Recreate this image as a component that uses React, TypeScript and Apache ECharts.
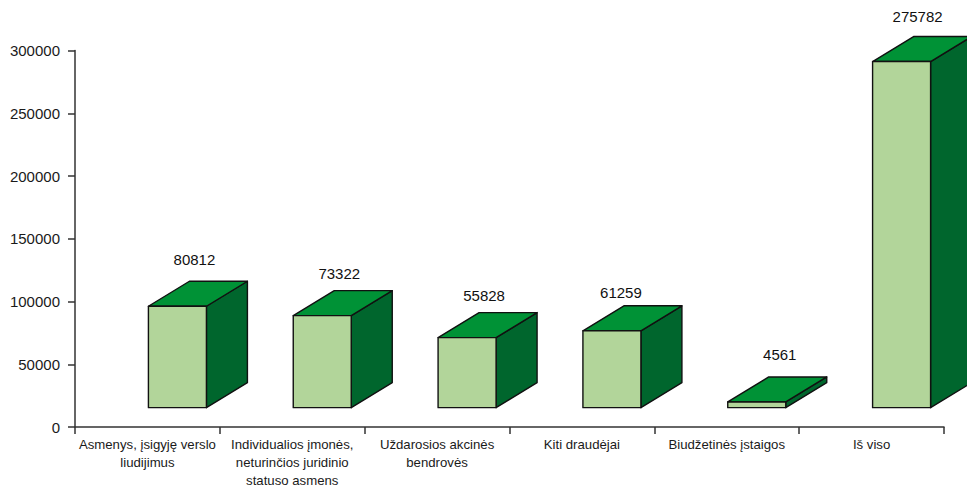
import React, { useEffect, useRef } from "react";
import * as echarts from "echarts";

const categories = [
  "Asmenys, įsigyję verslo\nliudijimus",
  "Individualios įmonės,\nneturinčios juridinio\nstatuso asmens",
  "Uždarosios akcinės\nbendrovės",
  "Kiti draudėjai",
  "Biudžetinės įstaigos",
  "Iš viso",
];
const values = [80812, 73322, 55828, 61259, 4561, 275782];
const yTicks = [0, 50000, 100000, 150000, 200000, 250000, 300000];

// Layout of the pseudo-3D boxes (pixels / axis units)
const FLOOR = 15400;
const SHIFT_X = 30;
const WIDTH = 58;
const DEPTH_X = 41;
const DEPTH_Y = 25;
const labelNudgeX = [17, 17, 17, 9, 23, 16];
const labelLift = [47, 42, 42, 38, 47, 45];

const FRONT = "#b2d59a";
const TOP = "#009236";
const SIDE = "#00662d";
const EDGE = "#111111";
const FONT = '"Liberation Sans", Arial, sans-serif';

export default function App() {
  const ref = useRef<HTMLDivElement>(null);
  useEffect(() => {
    document.body.style.margin = "0";
    const chart = echarts.init(ref.current!, undefined, { renderer: "svg" });
    chart.setOption({
      animation: false,
      backgroundColor: "#ffffff",
      grid: { left: 75, right: 23, top: 50.5, bottom: 60, containLabel: false, outerBoundsMode: "none" },
      xAxis: {
        type: "category",
        data: categories,
        axisLine: { lineStyle: { color: "#333333", width: 1.5 } },
        axisTick: { show: true, length: 7, interval: 0, lineStyle: { color: "#333333", width: 1.5 } },
        axisLabel: {
          interval: 0,
          color: "#1a1a1a",
          fontFamily: FONT,
          fontSize: 13.2,
          lineHeight: 18,
          margin: 8,
        },
      },
      yAxis: {
        type: "value",
        min: yTicks[0],
        max: yTicks[yTicks.length - 1],
        interval: yTicks[1] - yTicks[0],
        splitLine: { show: false },
        axisLine: { show: true, lineStyle: { color: "#333333", width: 1.5 } },
        axisTick: { show: true, length: 7, lineStyle: { color: "#333333", width: 1.5 } },
        axisLabel: {
          color: "#1a1a1a",
          fontFamily: FONT,
          fontSize: 15,
          margin: 15,
          formatter: (v: number) => String(v),
        },
      },
      series: [
        {
          type: "custom",
          clip: false,
          data: values.map((v, i) => [i, v]),
          encode: { x: 0, y: 1 },
          renderItem: (params: any, api: any) => {
            const i = api.value(0);
            const v = api.value(1);
            const bottom = api.coord([i, FLOOR]);
            const top = api.coord([i, FLOOR + v]);
            const x0 = bottom[0] + SHIFT_X - WIDTH / 2;
            const x1 = x0 + WIDTH;
            const yb = bottom[1];
            const yt = top[1];
            const style = { stroke: EDGE, lineWidth: 1.4, lineJoin: "round" };
            const idx = params.dataIndex;
            return {
              type: "group",
              children: [
                {
                  type: "polygon",
                  shape: { points: [[x1, yt], [x1 + DEPTH_X, yt - DEPTH_Y], [x1 + DEPTH_X, yb - DEPTH_Y], [x1, yb]] },
                  style: { ...style, fill: SIDE },
                },
                {
                  type: "polygon",
                  shape: { points: [[x0, yt], [x0 + DEPTH_X, yt - DEPTH_Y], [x1 + DEPTH_X, yt - DEPTH_Y], [x1, yt]] },
                  style: { ...style, fill: TOP },
                },
                {
                  type: "polygon",
                  shape: { points: [[x0, yb], [x0, yt], [x1, yt], [x1, yb]] },
                  style: { ...style, fill: FRONT },
                },
                {
                  type: "text",
                  x: (x0 + x1) / 2 + labelNudgeX[idx],
                  y: yt - labelLift[idx],
                  style: {
                    text: String(v),
                    fill: "#111111",
                    font: `15px ${FONT}`,
                    align: "center",
                    verticalAlign: "middle",
                  },
                },
              ],
            };
          },
        },
      ],
    });
    return () => chart.dispose();
  }, []);
  return (
    <div
      ref={ref}
      style={{ position: "absolute", left: 0, top: 0, width: 967, height: 487, overflow: "hidden" }}
    />
  );
}
